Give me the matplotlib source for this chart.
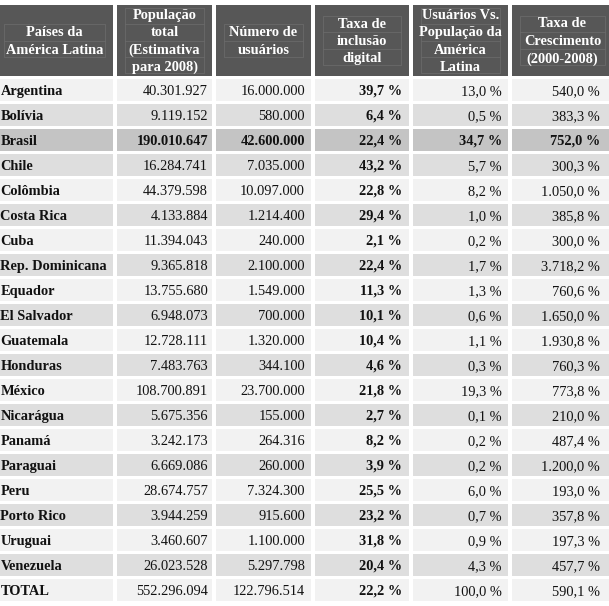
import matplotlib.pyplot as plt
from matplotlib.patches import Rectangle

headers = ["Países da\nAmérica Latina",
           "População\ntotal\n(Estimativa\npara 2008)",
           "Número de\nusuários",
           "Taxa de\ninclusão\ndigital",
           "Usuários Vs.\nPopulação da\nAmérica\nLatina",
           "Taxa de\nCrescimento\n(2000-2008)"]

countries = ["Argentina", "Bolívia", "Brasil", "Chile", "Colômbia", "Costa Rica",
             "Cuba", "Rep. Dominicana", "Equador", "El Salvador", "Guatemala",
             "Honduras", "México", "Nicarágua", "Panamá", "Paraguai", "Peru",
             "Porto Rico", "Uruguai", "Venezuela", "TOTAL"]
population = [40301927, 9119152, 190010647, 16284741, 44379598, 4133884,
              11394043, 9365818, 13755680, 6948073, 12728111, 7483763,
              108700891, 5675356, 3242173, 6669086, 28674757, 3944259,
              3460607, 26023528, 552296094]
users = [16000000, 580000, 42600000, 7035000, 10097000, 1214400, 240000,
         2100000, 1549000, 700000, 1320000, 344100, 23700000, 155000,
         264316, 260000, 7324300, 915600, 1100000, 5297798, 122796514]
inclusion = [39.7, 6.4, 22.4, 43.2, 22.8, 29.4, 2.1, 22.4, 11.3, 10.1, 10.4,
             4.6, 21.8, 2.7, 8.2, 3.9, 25.5, 23.2, 31.8, 20.4, 22.2]
share = [13.0, 0.5, 34.7, 5.7, 8.2, 1.0, 0.2, 1.7, 1.3, 0.6, 1.1, 0.3, 19.3,
         0.1, 0.2, 0.2, 6.0, 0.7, 0.9, 4.3, 100.0]
growth = [540.0, 383.3, 752.0, 300.3, 1050.0, 385.8, 300.0, 3718.2, 760.6,
          1650.0, 1930.8, 760.3, 773.8, 210.0, 487.4, 1200.0, 193.0, 357.8,
          197.3, 457.7, 590.1]
highlight = "Brasil"


def fmt_int(v):
    return f"{v:,}".replace(",", ".")


def fmt_pct(v):
    s = f"{v:,.1f}".replace(",", "X").replace(".", ",").replace("X", ".")
    return s + " %"


# column edges (left, right) and text anchor in pixels
cols = [(-4, 113), (117, 212), (216, 311), (315, 409), (413, 508), (512, 613)]
text_right = [None, 208, 305, 402, 502, 600]
head_top, head_bot = 5, 76
row_top0, row_h, row_pitch = 79, 22, 25

fig = plt.figure(figsize=(6.09, 6.06), dpi=100)
ax = fig.add_axes([0, 0, 1, 1])
ax.set_xlim(0, 609)
ax.set_ylim(606, 0)
ax.axis("off")

font = ["Liberation Serif", "DejaVu Serif"]
fs = 10.4

# header
for (x0, x1), h in zip(cols, headers):
    ax.add_patch(Rectangle((x0, head_top), x1 - x0, head_bot - head_top,
                           facecolor="#575757", edgecolor="none"))
    n = h.count("\n") + 1
    cy = (head_top + head_bot) / 2
    lh = 16.3
    top = cy - n * lh / 2
    # faint inner text-box lines
    ax.add_patch(Rectangle((x0 + 8, top), x1 - x0 - 16, n * lh,
                           facecolor="none", edgecolor="#6a6a6a", lw=0.6))
    for k in range(1, n):
        ax.plot([x0 + 8, x1 - 8], [top + k * lh] * 2, color="#6a6a6a", lw=0.6)
    ax.text((x0 + x1) / 2, cy + 1, h, ha="center", va="center", color="white",
            fontweight="bold", fontsize=fs, family=font, linespacing=1.42)

# body
for i, name in enumerate(countries):
    y0 = row_top0 + i * row_pitch
    if name == highlight:
        bg = "#c4c4c4"
    elif i % 2:
        bg = "#dedede"
    else:
        bg = "#f2f2f2"
    cells = [name, fmt_int(population[i]), fmt_int(users[i]),
             fmt_pct(inclusion[i]), fmt_pct(share[i]), fmt_pct(growth[i])]
    for j, ((x0, x1), txt) in enumerate(zip(cols, cells)):
        ax.add_patch(Rectangle((x0, y0), x1 - x0, row_h,
                               facecolor=bg, edgecolor="none"))
        bold = j == 0 or j == 3 or name == highlight
        cy = y0 + row_h / 2 + 1.5
        if j == 0:
            ax.text(0.5, cy, txt, ha="left", va="center", color="#111111",
                    fontsize=fs, family=font,
                    fontweight="bold" if bold else "normal")
        else:
            ax.text(text_right[j], cy, txt, ha="right", va="center",
                    color="#111111", fontsize=fs, family=font,
                    fontweight="bold" if bold else "normal")

fig.savefig("out.png", dpi=100, facecolor="white")
